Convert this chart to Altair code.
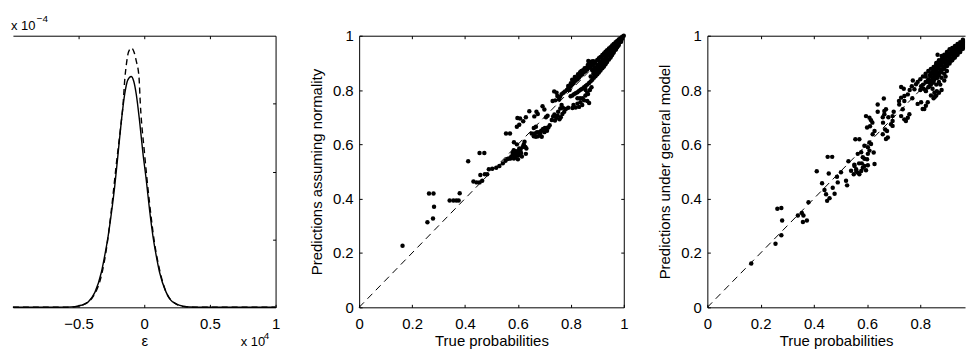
import altair as alt
import pandas as pd

FONT = "Liberation Sans"
FS = 15
TICK = 3
DOT = 20

# ---------------- left panel: densities (x in units of 1e4, y in units of 1e-4)
EPS_SOLID_X = [-1.0, -0.70, -0.60, -0.528, -0.48, -0.427, -0.376, -0.326, -0.301, -0.275,
               -0.25, -0.225, -0.199, -0.174, -0.149, -0.125, -0.10, -0.08, -0.061, -0.036,
               -0.010, 0.015, 0.040, 0.066, 0.091, 0.116, 0.167, 0.20, 0.242, 0.30,
               0.343, 0.45, 1.0]
EPS_SOLID_Y = [0, 0, 0.003, 0.01, 0.03, 0.08, 0.22, 0.52, 0.76, 1.05,
               1.39, 1.78, 2.27, 2.75, 3.14, 3.35, 3.40, 3.33, 3.14, 2.75,
               2.27, 1.88, 1.44, 1.05, 0.76, 0.52, 0.22, 0.11, 0.05, 0.015,
               0.005, 0, 0]
EPS_DASH_X = [-1.0, -0.60, -0.50, -0.452, -0.40, -0.376, -0.326, -0.288, -0.25, -0.212,
              -0.18, -0.161, -0.149, -0.136, -0.12, -0.098, -0.078, -0.061, -0.040, -0.030,
              0.002, 0.040, 0.078, 0.116, 0.167, 0.242, 0.30, 0.40, 1.0]
EPS_DASH_Y = [0, 0, 0.01, 0.05, 0.13, 0.20, 0.47, 0.86, 1.44, 2.12,
              2.65, 3.0, 3.34, 3.58, 3.76, 3.82, 3.76, 3.63, 3.39, 3.0,
              2.27, 1.54, 0.95, 0.56, 0.22, 0.05, 0.01, 0, 0]
EPS_TICKS = [-0.5, 0, 0.5, 1]
EPS_TOP_TICKS = [-0.5, 0, 0.5]
DENS_TICKS = [1, 2, 3]

# ---------------- middle panel: predictions assuming normality
N_TRUE_A = [0.164, 0.258, 0.264, 0.281, 0.283, 0.279, 0.342, 0.356, 0.367, 0.380,
            0.376, 0.412, 0.432, 0.444, 0.455, 0.465, 0.455, 0.473, 0.458, 0.475,
            0.484, 0.490, 0.503, 0.518, 0.530, 0.543, 0.553, 0.560, 0.566, 0.555]
N_PRED_A = [0.227, 0.313, 0.419, 0.419, 0.370, 0.327, 0.393, 0.393, 0.393, 0.420,
            0.393, 0.538, 0.463, 0.460, 0.460, 0.466, 0.568, 0.568, 0.487, 0.490,
            0.490, 0.508, 0.510, 0.514, 0.520, 0.530, 0.540, 0.546, 0.548, 0.640]
N_TRUE_B = [0.570, 0.575, 0.582, 0.588, 0.593, 0.598, 0.580, 0.590, 0.602, 0.585,
            0.596, 0.605, 0.610, 0.596, 0.605, 0.598, 0.608, 0.620, 0.630, 0.643,
            0.622, 0.628, 0.630, 0.615, 0.600, 0.572, 0.578, 0.585, 0.592, 0.597,
            0.603, 0.607, 0.612, 0.590, 0.584, 0.625, 0.618, 0.632]
N_PRED_B = [0.640, 0.555, 0.560, 0.565, 0.570, 0.575, 0.568, 0.552, 0.560, 0.608,
            0.600, 0.585, 0.580, 0.665, 0.672, 0.697, 0.695, 0.685, 0.700, 0.722,
            0.600, 0.590, 0.565, 0.555, 0.545, 0.548, 0.552, 0.548, 0.558, 0.563,
            0.570, 0.575, 0.568, 0.575, 0.578, 0.610, 0.590, 0.585]
N_TRUE_C = [0.662, 0.670, 0.675, 0.660, 0.668, 0.652, 0.660, 0.668, 0.676, 0.680,
            0.688, 0.695, 0.693, 0.700, 0.706, 0.712, 0.708, 0.690, 0.664, 0.672,
            0.684, 0.700, 0.702, 0.715, 0.720, 0.710]
N_PRED_C = [0.703, 0.720, 0.712, 0.660, 0.665, 0.640, 0.630, 0.628, 0.630, 0.645,
            0.650, 0.657, 0.740, 0.728, 0.700, 0.705, 0.660, 0.628, 0.640, 0.645,
            0.638, 0.645, 0.660, 0.662, 0.670, 0.650]
N_TRUE_D = [0.737, 0.746, 0.749, 0.731, 0.741, 0.755, 0.733, 0.745, 0.757, 0.740,
            0.728, 0.760, 0.770, 0.778, 0.772, 0.790, 0.797, 0.805, 0.781, 0.790,
            0.765, 0.738, 0.750, 0.762, 0.768, 0.775, 0.752, 0.760, 0.765, 0.785,
            0.795, 0.800]
N_PRED_D = [0.795, 0.790, 0.778, 0.760, 0.762, 0.765, 0.703, 0.698, 0.692, 0.688,
            0.690, 0.732, 0.735, 0.795, 0.790, 0.806, 0.812, 0.820, 0.730, 0.735,
            0.745, 0.710, 0.705, 0.700, 0.712, 0.720, 0.720, 0.775, 0.785, 0.800,
            0.800, 0.815]
N_TRUE_UP = [0.810, 0.818, 0.825, 0.831, 0.837, 0.843, 0.850, 0.856, 0.862, 0.869,
             0.875, 0.881, 0.887, 0.893, 0.900, 0.906, 0.912, 0.919, 0.925, 0.931,
             0.937, 0.944, 0.950, 0.956, 0.962, 0.969, 0.975, 0.981, 0.987, 0.994,
             1.000, 0.866, 0.845, 0.835, 0.855, 0.880, 0.820, 0.830, 0.840, 0.850,
             0.860, 0.870, 0.875, 0.885, 0.800, 0.790, 0.810, 0.805, 0.815, 0.827,
             0.840, 0.852, 0.864, 0.876]
N_PRED_UP = [0.825, 0.834, 0.840, 0.846, 0.853, 0.858, 0.866, 0.870, 0.876, 0.882,
             0.886, 0.893, 0.899, 0.904, 0.911, 0.917, 0.922, 0.929, 0.935, 0.941,
             0.947, 0.953, 0.958, 0.964, 0.970, 0.976, 0.981, 0.986, 0.991, 0.996,
             1.000, 0.907, 0.872, 0.866, 0.878, 0.905, 0.845, 0.855, 0.862, 0.872,
             0.882, 0.890, 0.897, 0.906, 0.825, 0.815, 0.836, 0.838, 0.848, 0.858,
             0.870, 0.880, 0.892, 0.903]
N_TRUE_LO = [0.799, 0.806, 0.812, 0.818, 0.825, 0.831, 0.837, 0.843, 0.850, 0.856,
             0.862, 0.869, 0.875, 0.881, 0.887, 0.893, 0.900, 0.906, 0.912, 0.919,
             0.925, 0.931, 0.937, 0.944, 0.950, 0.956, 0.962, 0.969, 0.975, 0.981,
             0.987, 0.994, 0.806, 0.818, 0.831, 0.843, 0.850, 0.862, 0.869, 0.856,
             0.862, 0.810, 0.825, 0.836, 0.845, 0.855, 0.865, 0.872, 0.878, 0.835,
             0.825]
N_PRED_LO = [0.777, 0.780, 0.785, 0.788, 0.792, 0.797, 0.801, 0.805, 0.810, 0.815,
             0.820, 0.826, 0.832, 0.838, 0.845, 0.851, 0.858, 0.865, 0.872, 0.880,
             0.887, 0.895, 0.903, 0.912, 0.920, 0.929, 0.938, 0.948, 0.958, 0.968,
             0.978, 0.989, 0.734, 0.736, 0.738, 0.745, 0.762, 0.760, 0.752, 0.800,
             0.790, 0.745, 0.750, 0.755, 0.770, 0.780, 0.785, 0.800, 0.810, 0.770,
             0.770]
N_TRUE_MID = [0.885, 0.890, 0.895, 0.900, 0.905, 0.910, 0.915, 0.920, 0.925, 0.930,
              0.935, 0.940, 0.945, 0.950, 0.955, 0.960, 0.965, 0.970, 0.975, 0.980,
              0.985]
N_PRED_MID = [0.870, 0.875, 0.880, 0.885, 0.890, 0.895, 0.900, 0.905, 0.912, 0.918,
              0.925, 0.930, 0.935, 0.940, 0.946, 0.952, 0.958, 0.963, 0.970, 0.975,
              0.982]
N_TRUE_M1 = [0.880, 0.890, 0.900, 0.910, 0.920, 0.930, 0.940, 0.950, 0.960, 0.970,
             0.980, 0.990]
N_PRED_M1 = [0.874, 0.884, 0.893, 0.903, 0.913, 0.924, 0.936, 0.945, 0.956, 0.968,
             0.979, 0.989]
N_TRUE_M2 = [0.875, 0.885, 0.895, 0.905, 0.915, 0.925, 0.935, 0.945, 0.955, 0.965,
             0.975, 0.985]
N_PRED_M2 = [0.850, 0.860, 0.871, 0.882, 0.892, 0.903, 0.915, 0.927, 0.940, 0.953,
             0.966, 0.979]
N_TRUE_M3 = [0.890, 0.900, 0.910, 0.920, 0.930, 0.940, 0.950, 0.960, 0.970, 0.980,
             0.990]
N_PRED_M3 = [0.858, 0.868, 0.879, 0.889, 0.900, 0.912, 0.924, 0.937, 0.950, 0.964,
             0.978]

# ---------------- right panel: predictions under general model
G_TRUE_A = [0.165, 0.256, 0.263, 0.278, 0.281, 0.278, 0.340, 0.355, 0.361, 0.359,
            0.374, 0.380, 0.411, 0.431, 0.440, 0.446, 0.450, 0.459, 0.452, 0.469,
            0.456, 0.471, 0.478, 0.490, 0.487, 0.502, 0.525, 0.521, 0.530, 0.540]
G_PRED_A = [0.161, 0.234, 0.363, 0.366, 0.320, 0.265, 0.338, 0.347, 0.338, 0.314,
            0.320, 0.387, 0.501, 0.457, 0.432, 0.416, 0.392, 0.402, 0.554, 0.554,
            0.493, 0.440, 0.418, 0.460, 0.481, 0.497, 0.449, 0.466, 0.538, 0.503]
G_TRUE_B = [0.552, 0.556, 0.571, 0.553, 0.559, 0.565, 0.571, 0.578, 0.584, 0.590,
            0.596, 0.603, 0.565, 0.578, 0.584, 0.590, 0.603, 0.609, 0.590, 0.603,
            0.609, 0.615, 0.596, 0.609, 0.600, 0.611, 0.615, 0.621, 0.628, 0.625,
            0.580, 0.600, 0.570, 0.550, 0.560]
G_PRED_B = [0.525, 0.619, 0.619, 0.520, 0.508, 0.496, 0.490, 0.502, 0.514, 0.520,
            0.505, 0.523, 0.565, 0.571, 0.553, 0.547, 0.565, 0.577, 0.595, 0.589,
            0.607, 0.601, 0.704, 0.698, 0.662, 0.667, 0.689, 0.637, 0.649, 0.570,
            0.530, 0.545, 0.530, 0.490, 0.500]
G_TRUE_C = [0.628, 0.640, 0.659, 0.665, 0.663, 0.665, 0.671, 0.668, 0.675, 0.678,
            0.671, 0.659, 0.690, 0.696, 0.696, 0.696, 0.728, 0.738, 0.728, 0.740,
            0.620, 0.640, 0.660, 0.680, 0.700, 0.720, 0.740, 0.760, 0.770]
G_PRED_C = [0.528, 0.747, 0.700, 0.711, 0.769, 0.723, 0.729, 0.655, 0.649, 0.625,
            0.620, 0.637, 0.674, 0.686, 0.668, 0.704, 0.811, 0.805, 0.772, 0.778,
            0.680, 0.720, 0.680, 0.700, 0.720, 0.760, 0.760, 0.800, 0.770]
G_TRUE_D = [0.753, 0.721, 0.734, 0.728, 0.740, 0.746, 0.753, 0.759, 0.768, 0.772,
            0.778, 0.784, 0.790, 0.803, 0.809, 0.815, 0.821, 0.828, 0.803, 0.812,
            0.821, 0.834, 0.846, 0.853, 0.862, 0.865, 0.846, 0.853, 0.865, 0.840,
            0.855, 0.870, 0.880, 0.875, 0.890, 0.895, 0.850, 0.830, 0.820, 0.800,
            0.790, 0.860, 0.870, 0.880, 0.890, 0.900, 0.850, 0.860]
G_PRED_D = [0.784, 0.747, 0.729, 0.704, 0.692, 0.686, 0.698, 0.711, 0.814, 0.835,
            0.803, 0.821, 0.749, 0.755, 0.730, 0.730, 0.742, 0.755, 0.814, 0.805,
            0.796, 0.814, 0.805, 0.790, 0.796, 0.930, 0.827, 0.839, 0.845, 0.780,
            0.775, 0.790, 0.800, 0.820, 0.835, 0.850, 0.860, 0.830, 0.850, 0.800,
            0.830, 0.820, 0.830, 0.845, 0.860, 0.870, 0.770, 0.780]
G_TRUE_UP = [0.80, 0.81, 0.82, 0.83, 0.84, 0.85, 0.86, 0.87, 0.88, 0.89,
             0.90, 0.91, 0.92, 0.93, 0.94, 0.95, 0.96, 0.97, 0.98, 0.99]
G_PRED_UP = [0.840, 0.850, 0.860, 0.870, 0.878, 0.885, 0.895, 0.905, 0.912, 0.920,
             0.928, 0.936, 0.944, 0.952, 0.960, 0.967, 0.974, 0.980, 0.987, 0.993]
G_TRUE_MID = [0.81, 0.82, 0.83, 0.84, 0.85, 0.86, 0.87, 0.88, 0.89, 0.90,
              0.91, 0.92, 0.93, 0.94, 0.95, 0.96, 0.97, 0.98, 0.99, 1.00]
G_PRED_MID = [0.820, 0.830, 0.840, 0.850, 0.860, 0.870, 0.880, 0.890, 0.900, 0.910,
              0.920, 0.930, 0.940, 0.950, 0.958, 0.966, 0.974, 0.982, 0.990, 1.000]
G_TRUE_LO = [0.82, 0.83, 0.84, 0.85, 0.86, 0.87, 0.88, 0.89, 0.90, 0.91,
             0.92, 0.93, 0.94, 0.95, 0.96, 0.97, 0.98, 0.99]
G_PRED_LO = [0.800, 0.810, 0.820, 0.830, 0.845, 0.855, 0.865, 0.878, 0.888, 0.898,
             0.910, 0.920, 0.930, 0.940, 0.952, 0.962, 0.972, 0.982]
G_TRUE_R1 = [0.835, 0.845, 0.855, 0.865, 0.875, 0.885, 0.895, 0.905, 0.915, 0.925,
             0.935, 0.945, 0.955, 0.965]
G_PRED_R1 = [0.855, 0.866, 0.876, 0.885, 0.896, 0.905, 0.915, 0.924, 0.934, 0.943,
             0.952, 0.961, 0.970, 0.978]
G_TRUE_R2 = [0.835, 0.845, 0.855, 0.865, 0.875, 0.885, 0.895, 0.905, 0.915, 0.925,
             0.935, 0.945, 0.955, 0.965]
G_PRED_R2 = [0.828, 0.838, 0.848, 0.857, 0.868, 0.878, 0.888, 0.898, 0.908, 0.918,
             0.928, 0.939, 0.950, 0.960]
G_TRUE_R3 = [0.86, 0.87, 0.88, 0.89, 0.90, 0.91, 0.92, 0.93, 0.94, 0.95, 0.96]
G_PRED_R3 = [0.900, 0.910, 0.925, 0.930, 0.940, 0.950, 0.955, 0.962, 0.970, 0.976, 0.985]
G_TRUE_R4 = [0.84, 0.85, 0.86, 0.87, 0.88, 0.89, 0.90, 0.91, 0.92, 0.93, 0.94, 0.95, 0.96]
G_PRED_R4 = [0.862, 0.872, 0.882, 0.892, 0.902, 0.914, 0.924, 0.933, 0.943, 0.953,
             0.962, 0.970, 0.979]
G_TRUE_R5 = [0.84, 0.85, 0.86, 0.87, 0.88, 0.89, 0.90, 0.91, 0.92, 0.93, 0.94, 0.95, 0.96]
G_PRED_R5 = [0.835, 0.845, 0.856, 0.866, 0.876, 0.886, 0.897, 0.907, 0.917, 0.927,
             0.938, 0.949, 0.958]

PROB_TICKS = [0, 0.2, 0.4, 0.6, 0.8, 1]
PROB_TICKS_R = [0, 0.2, 0.4, 0.6, 0.8]
INNER_TICKS = [0.2, 0.4, 0.6, 0.8]
DIAG = [0, 1]

# texts
EXP_BASE = "x 10"
EXP_Y = "\u22124"
EXP_X = "4"
X_TITLE = "True probabilities"
Y_TITLE_N = "Predictions assuming normality"
Y_TITLE_G = "Predictions under general model"
EPS_TITLE = "\u03b5"

H = 273
W_L, W_M, W_R = 264, 266, 259


def tick_axis(orient, values):
    return alt.Axis(orient=orient, values=values, labels=False, domain=False,
                    ticks=True, tickSize=TICK, offset=-TICK, title=None, grid=False)


def dom_axis(orient):
    return alt.Axis(orient=orient, labels=False, ticks=False, domain=True,
                    title=None, grid=False)


def lab_axis(orient, values, title, label_pad, title_pad):
    return alt.Axis(orient=orient, values=values, format="~g", labels=True,
                    domain=False, ticks=True, tickSize=TICK, offset=-TICK,
                    labelPadding=label_pad, title=title, titlePadding=title_pad,
                    grid=False, labelFlush=False, labelOverlap=False)


def guide_layers(xs, ys, xdom, ydom, pairs):
    frame = pd.DataFrame({"gx": xdom, "gy": ydom})
    out = []
    for xa, ya in pairs:
        out.append(alt.Chart(frame).mark_point(opacity=0).encode(
            x=alt.X("gx:Q", scale=xs, axis=xa),
            y=alt.Y("gy:Q", scale=ys, axis=ya)))
    return out


def text_layer(txt, px, py, size):
    return alt.Chart(pd.DataFrame({"t": [txt]})).mark_text(
        align="left", baseline="alphabetic", font=FONT, fontSize=size, color="black"
    ).encode(x=alt.value(px), y=alt.value(py), text="t:N")


# ---- left
xs_l = alt.Scale(domain=[-1, 1], nice=False, zero=False)
ys_l = alt.Scale(domain=[0, 4], nice=False, zero=False)
solid = alt.Chart(pd.DataFrame({"e": EPS_SOLID_X, "d": EPS_SOLID_Y})).mark_line(
    color="black", strokeWidth=1.4, interpolate="monotone").encode(
    x=alt.X("e:Q", scale=xs_l, axis=None), y=alt.Y("d:Q", scale=ys_l, axis=None))
dashed = alt.Chart(pd.DataFrame({"e": EPS_DASH_X, "d": EPS_DASH_Y})).mark_line(
    color="black", strokeWidth=1.4, strokeDash=[6, 4], interpolate="monotone").encode(
    x=alt.X("e:Q", scale=xs_l, axis=None), y=alt.Y("d:Q", scale=ys_l, axis=None))
left_guides = guide_layers(xs_l, ys_l, [-1, 1], [0, 4], [
    (lab_axis("bottom", EPS_TICKS, EPS_TITLE, 9, 2), tick_axis("right", DENS_TICKS)),
    (tick_axis("top", EPS_TOP_TICKS), dom_axis("right")),
    (dom_axis("bottom"), None),
    (dom_axis("top"), None),
])
left = alt.layer(
    *left_guides, dashed, solid,
    text_layer(EXP_BASE, -2, -6, 13), text_layer(EXP_Y, 24, -14, 10),
    text_layer(EXP_BASE, 229, 312, 13), text_layer(EXP_X, 252, 305, 10),
).resolve_axis(x="independent", y="independent").properties(width=W_L, height=H)

# ---- middle
xs_m = alt.Scale(domain=[0, 1], nice=False, zero=False)
ys_m = alt.Scale(domain=[0, 1], nice=False, zero=False)
n_true = (N_TRUE_A + N_TRUE_B + N_TRUE_C + N_TRUE_D + N_TRUE_UP + N_TRUE_LO
          + N_TRUE_MID + N_TRUE_M1 + N_TRUE_M2 + N_TRUE_M3)
n_pred = (N_PRED_A + N_PRED_B + N_PRED_C + N_PRED_D + N_PRED_UP + N_PRED_LO
          + N_PRED_MID + N_PRED_M1 + N_PRED_M2 + N_PRED_M3)
diag_m = alt.Chart(pd.DataFrame({"p": DIAG, "q": DIAG})).mark_line(
    color="black", strokeWidth=1, strokeDash=[7, 5]).encode(
    x=alt.X("p:Q", scale=xs_m, axis=None), y=alt.Y("q:Q", scale=ys_m, axis=None))
pts_m = alt.Chart(pd.DataFrame({"p": n_true, "q": n_pred})).mark_circle(
    size=DOT, color="black", opacity=1).encode(
    x=alt.X("p:Q", scale=xs_m, axis=None), y=alt.Y("q:Q", scale=ys_m, axis=None))
mid_guides = guide_layers(xs_m, ys_m, [0, 1], [0, 1], [
    (lab_axis("bottom", PROB_TICKS, X_TITLE, 9, 2), lab_axis("left", PROB_TICKS, Y_TITLE_N, 6, 8)),
    (tick_axis("top", INNER_TICKS), tick_axis("right", INNER_TICKS)),
    (dom_axis("bottom"), dom_axis("left")),
    (dom_axis("top"), dom_axis("right")),
])
mid = alt.layer(*mid_guides, diag_m, pts_m).resolve_axis(
    x="independent", y="independent").properties(width=W_M, height=H)

# ---- right
xs_r = alt.Scale(domain=[0, 0.968], nice=False, zero=False)
ys_r = alt.Scale(domain=[0, 1], nice=False, zero=False)
g_true = (G_TRUE_A + G_TRUE_B + G_TRUE_C + G_TRUE_D + G_TRUE_UP + G_TRUE_MID
          + G_TRUE_LO + G_TRUE_R1 + G_TRUE_R2 + G_TRUE_R3 + G_TRUE_R4 + G_TRUE_R5)
g_pred = (G_PRED_A + G_PRED_B + G_PRED_C + G_PRED_D + G_PRED_UP + G_PRED_MID
          + G_PRED_LO + G_PRED_R1 + G_PRED_R2 + G_PRED_R3 + G_PRED_R4 + G_PRED_R5)
diag_r = alt.Chart(pd.DataFrame({"p": DIAG, "q": DIAG})).mark_line(
    color="black", strokeWidth=1, strokeDash=[7, 5], clip=True).encode(
    x=alt.X("p:Q", scale=xs_r, axis=None), y=alt.Y("q:Q", scale=ys_r, axis=None))
pts_r = alt.Chart(pd.DataFrame({"p": g_true, "q": g_pred})).mark_circle(
    size=DOT, color="black", opacity=1, clip=True).encode(
    x=alt.X("p:Q", scale=xs_r, axis=None), y=alt.Y("q:Q", scale=ys_r, axis=None))
right_guides = guide_layers(xs_r, ys_r, [0, 0.968], [0, 1], [
    (lab_axis("bottom", PROB_TICKS_R, X_TITLE, 9, 2), lab_axis("left", PROB_TICKS, Y_TITLE_G, 6, 8)),
    (tick_axis("top", INNER_TICKS), dom_axis("left")),
    (dom_axis("bottom"), None),
    (dom_axis("top"), None),
])
right = alt.layer(*right_guides, diag_r, pts_r).resolve_axis(
    x="independent", y="independent").properties(width=W_R, height=H)

chart = alt.hconcat(
    left, mid, right, spacing=84, bounds="flush",
    padding={"left": 9, "top": 12, "right": 0, "bottom": 0},
    background="white",
).configure_view(stroke="transparent").configure_axis(
    labelFont=FONT, labelFontSize=FS, titleFont=FONT, titleFontSize=FS,
    titleFontWeight="normal", labelColor="black", titleColor="black",
    tickColor="black", domainColor="black", domainWidth=1, tickWidth=1,
)

chart.save("out.html", embed_options={"renderer": "svg", "actions": False})
